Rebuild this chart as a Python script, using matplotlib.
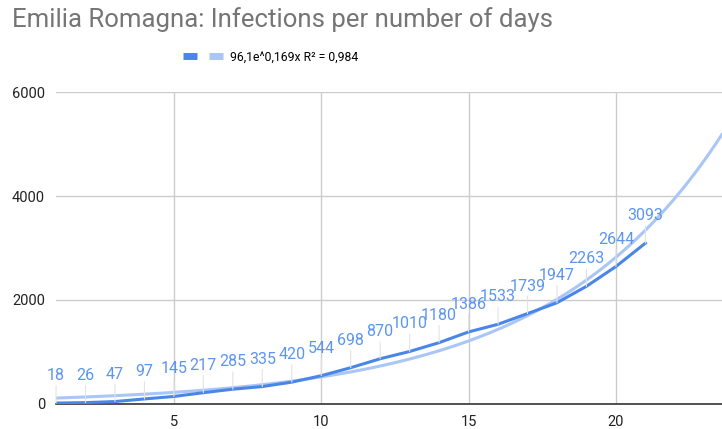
import numpy as np
import matplotlib
matplotlib.use("Agg")
import matplotlib.pyplot as plt
from matplotlib.lines import Line2D

plt.rcParams['font.family'] = ['Roboto', 'DejaVu Sans']

days = list(range(1, 22))
infections = [18, 26, 47, 97, 145, 217, 285, 335, 420, 544, 698, 870,
              1010, 1180, 1386, 1533, 1739, 1947, 2263, 2644, 3093]

# exponential trendline as reported in the legend
trend_a = 96.1
trend_b = 0.169
trend_label = "96,1e^0,169x R² = 0,984"

fig = plt.figure(figsize=(7.22, 4.29), dpi=100)
ax = fig.add_axes([0.0776, 0.0583, 0.9224, 0.7272])

x_min, x_max = 1, 23.6
tx = np.linspace(x_min, x_max, 300)
ax.plot(tx, trend_a * np.exp(trend_b * tx), color='#a9c6f7', lw=2.2, zorder=2)
ax.plot(days, infections, color='#4a86e8', lw=2.2, zorder=3)

for d, v in zip(days, infections):
    ax.annotate(str(v), xy=(d, v), xytext=(0, 20), textcoords='offset pixels',
                ha='center', va='bottom', fontsize=11.5, color='#5b95f0',
                arrowprops=dict(arrowstyle='-', color='#e3e3e3', lw=0.8,
                                shrinkA=0, shrinkB=0), zorder=4)

ax.set_xlim(x_min, x_max)
ax.set_ylim(0, 6000)
ax.set_xticks([5, 10, 15, 20])
ax.set_yticks([0, 2000, 4000, 6000])
ax.grid(True, color='#cccccc', lw=1)
ax.set_axisbelow(True)
for s in ['top', 'right', 'left']:
    ax.spines[s].set_visible(False)
ax.spines['bottom'].set_color('#333333')
ax.spines['bottom'].set_linewidth(1.2)
ax.tick_params(length=0, labelsize=10.5, colors='#222222', pad=8)

fig.text(0.017, 0.955, "Emilia Romagna: Infections per number of days",
         fontsize=18.5, color='#757575', va='center', ha='left')

handles = [Line2D([], [], color='#4a86e8', lw=5, solid_capstyle='butt'),
           Line2D([], [], color='#a9c6f7', lw=5, solid_capstyle='butt')]
fig.legend(handles, ['', trend_label], loc='center', bbox_to_anchor=(0.375, 0.867),
           ncol=2, frameon=False, fontsize=8.8, handlelength=1.1,
           handletextpad=0.6, columnspacing=0.4)

fig.savefig('out.png', dpi=100)
